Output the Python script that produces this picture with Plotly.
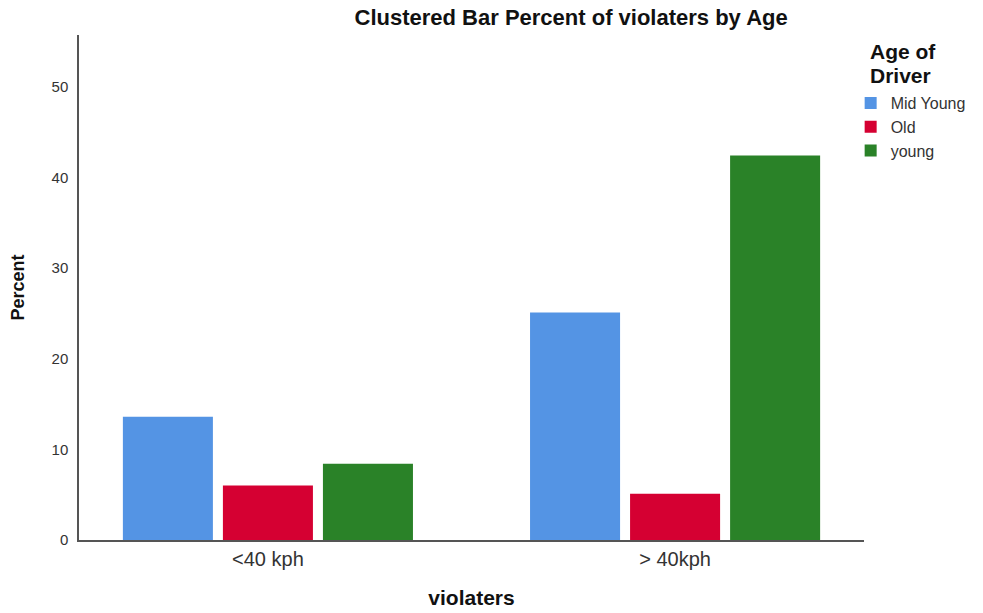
import plotly.graph_objects as go

categories = ["<40 kph", "> 40kph"]
series_names = ["Mid Young", "Old", "young"]
mid_young = [13.6, 25.1]
old = [6.0, 5.1]
young = [8.4, 42.4]
colors = ["#5494E4", "#D50032", "#2A8228"]

fig = go.Figure()
for name, vals, c in zip(series_names, [mid_young, old, young], colors):
    fig.add_trace(go.Bar(name=name, x=categories, y=vals, marker_color=c,
                         marker_line_width=0))

fig.update_layout(
    width=983, height=613,
    margin=dict(l=79, r=119, t=35, b=73, autoexpand=False),
    paper_bgcolor="white", plot_bgcolor="white",
    font=dict(family="Liberation Sans, Arial, sans-serif", color="#222"),
    barmode="group", bargap=0.263, bargroupgap=0.1,
    title=dict(text="<b>Clustered Bar Percent of violaters by Age</b>",
               x=0.581, xanchor="center", y=0.971, yanchor="middle",
               font=dict(size=22, color="#111")),
    xaxis=dict(range=[-0.464, 1.464], showline=True, linecolor="#555", linewidth=1.5,
               ticks="", tickfont=dict(size=20, color="#333"), automargin=False,
               title=dict(text="<b>violaters</b>", font=dict(size=21, color="#111"), standoff=22)),
    yaxis=dict(range=[0, 55.7], showline=True, linecolor="#555", linewidth=1.5,
               showgrid=False, zeroline=False, ticks="", tickvals=[0, 10, 20, 30, 40, 50],
               tickfont=dict(size=15, color="#333"), ticklabelstandoff=6, automargin=False,
               title=dict(text="<b>Percent</b>", font=dict(size=18, color="#111"), standoff=22)),
    legend=dict(x=0.983, y=0.899, xanchor="left", yanchor="top",
                font=dict(size=16, color="#333"), tracegroupgap=0, itemwidth=30),
)

fig.add_annotation(text="<b>Age of</b>", xref="paper", yref="paper",
                   x=(868 - 79) / 785, y=(540 - 51) / 505, xanchor="left", yanchor="middle",
                   showarrow=False, font=dict(size=21, color="#111"))
fig.add_annotation(text="<b>Driver</b>", xref="paper", yref="paper",
                   x=(868 - 79) / 785, y=(540 - 76) / 505, xanchor="left", yanchor="middle",
                   showarrow=False, font=dict(size=21, color="#111"))

fig.write_html("out.html", config={"displayModeBar": False},
               post_script="document.body.style.margin='0';window.dispatchEvent(new Event('resize'));")
